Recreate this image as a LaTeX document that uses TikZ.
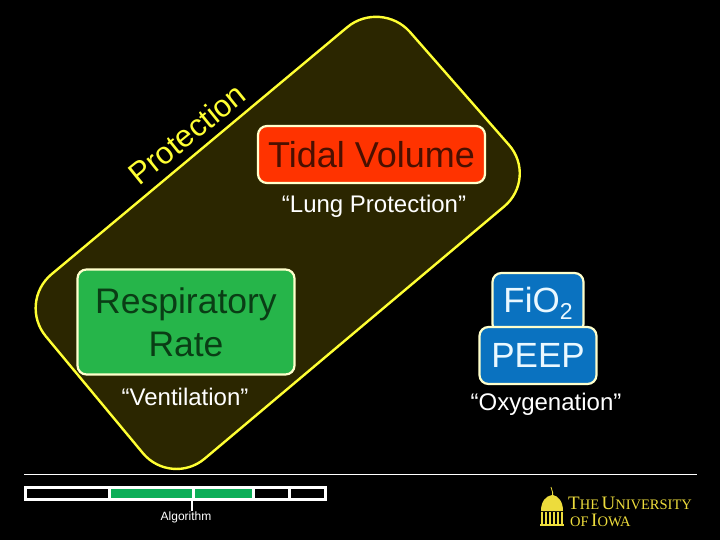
\documentclass[tikz,border=0pt]{standalone}
\usepackage{fontspec}
\setmainfont{Liberation Sans}
\newfontfamily\logofont{Liberation Serif}
\newcommand{\fs}[1]{\fontsize{#1}{#1}\selectfont}
\newcommand{\lgA}[1]{{\fs{19}#1}}
\newcommand{\lgB}[1]{{\fs{14.5}#1}}
\definecolor{panel}{HTML}{2B2600}
\definecolor{edgeyellow}{HTML}{FFFF33}
\definecolor{boxedge}{HTML}{FFFFCC}
\definecolor{redfill}{HTML}{FF3300}
\definecolor{redtext}{HTML}{4A1000}
\definecolor{greenfill}{HTML}{26B54A}
\definecolor{greentext}{HTML}{0A3D15}
\definecolor{bluefill}{HTML}{0A72C0}
\definecolor{bluetext}{HTML}{EAF8FF}
\definecolor{barfill}{HTML}{0DAE58}
\definecolor{logoyellow}{HTML}{EDDC3C}
\tikzset{
  x=1pt,y=-1pt,
  vbox/.style={draw=boxedge,line width=2.2pt,rounded corners=9pt,inner sep=0pt,align=center},
  caption/.style={text=white,font=\fs{24},inner sep=0pt},
  barcell/.style={draw=white,line width=2.6pt,inner sep=0pt,anchor=north west,minimum height=12pt},
}
\begin{document}
\begin{tikzpicture}
\useasboundingbox (0,0) rectangle (720,540);
\fill[black] (0,0) rectangle (720,540);
% panel
\draw[edgeyellow,fill=panel,line width=2.4pt,rounded corners=44pt]
  (381,-1) -- (538,178) -- (171,487) -- (17.7,302.5) -- cycle;
% protection label
\node[text=edgeyellow,font=\fs{31},rotate=39,inner sep=0pt] (prot) at (187,134) {Protection};
% boxes
\node[vbox,fill=redfill,text=redtext,font=\fs{36},minimum width=227pt,minimum height=57pt] (tv) at (371.5,154.5) {Tidal Volume};
\node[caption] (lung) at (374,206.5) {“Lung Protection”};
\node[vbox,fill=greenfill,text=greentext,font=\fontsize{35.5}{43}\selectfont,minimum width=217pt,minimum height=105pt] (rr) at (186,322) {Respiratory\\Rate};
\node[caption] (vent) at (185,396.5) {“Ventilation”};
\node[vbox,fill=bluefill,text=bluetext,font=\fs{35},minimum width=91pt,minimum height=60pt] (fio) at (538,303) {FiO\raisebox{-7pt}{\fs{23}2}};
\node[vbox,fill=bluefill,text=bluetext,font=\fs{35},minimum width=117pt,minimum height=57pt] (peep) at (538,355.5) {PEEP};
\node[caption] (oxy) at (546,404) {“Oxygenation”};
% rule
\coordinate (ruleL) at (24,474);
\coordinate (ruleR) at (697,474);
\draw[white,line width=0.9pt] (ruleL) -- (ruleR);
% progress bar
\node[barcell,minimum width=84pt] (b1) at (24,486) {};
\node[barcell,fill=barfill,minimum width=84pt] (b2) at (108,486) {};
\node[barcell,fill=barfill,minimum width=60pt] (b3) at (192,486) {};
\node[barcell,minimum width=36pt] (b4) at (252,486) {};
\node[barcell,minimum width=36pt] (b5) at (288,486) {};
\node[text=white,font=\fs{12},inner sep=0pt] (alg) at (186,517.5) {Algorithm};
\coordinate (tickEnd) at (192,511);
\draw[white,line width=2.4pt] (b3.south west) -- (tickEnd);
% logo
\fill[logoyellow] (541,511) .. controls (541,501) and (546,496) .. (552,495) -- (552,492) -- (553,492) -- (553,495) .. controls (558,496) and (563,501) .. (563,511) -- cycle;
\draw[logoyellow,line width=0.8pt] (552.5,492) -- (551,487);
\foreach \cx in {542,546,550,554,558,562}
  \fill[logoyellow] (\cx-1.2,512) rectangle (\cx+1.2,525);
\fill[logoyellow] (540,523.5) rectangle (564,525.5);
\node[text=logoyellow,font=\logofont,anchor=base west,inner sep=0pt] (lg1) at (568,509) {\lgA{T}\lgB{HE} \lgA{U}\lgB{NIVERSITY}};
\node[text=logoyellow,font=\logofont,anchor=base west,inner sep=0pt] (lg2) at (570,526) {\lgB{OF} \lgA{I}\lgB{OWA}};
\end{tikzpicture}
\end{document}
